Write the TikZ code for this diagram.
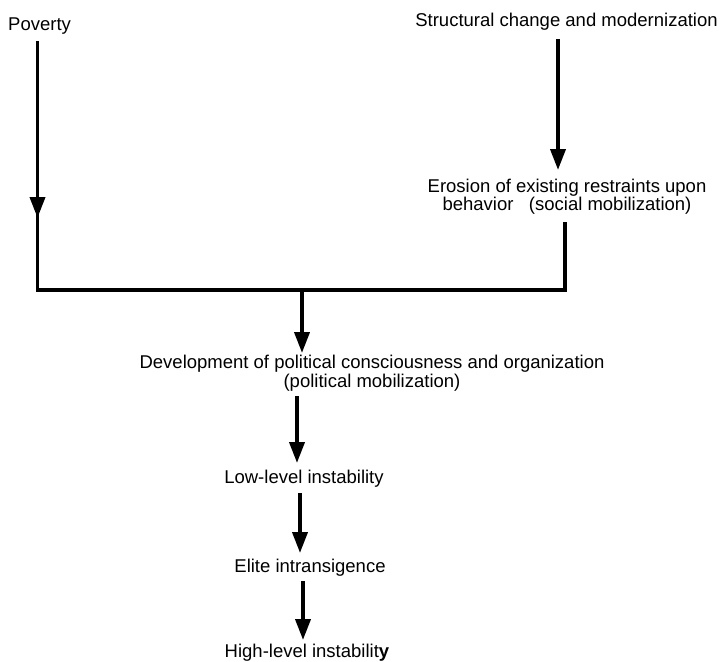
\documentclass[tikz,border=0pt]{standalone}
\usepackage{fontspec}
\setmainfont{Liberation Sans}
\usetikzlibrary{arrows.meta}
\begin{document}
\begin{tikzpicture}[x=1pt,y=-1pt,
  lbl/.style={inner sep=0pt, font=\fontsize{18.5}{18}\selectfont, align=center},
  conn/.style={line width=3.8pt},
  arr/.style={conn,-{Triangle[width=15pt,length=21pt]}}]
\useasboundingbox (0,0) rectangle (722,661);
\node[lbl,anchor=base west] (pov) at (8,30.7) {Poverty};
\node[lbl,anchor=base] (str) at (566.5,27) {Structural change and modernization};
\node[lbl,anchor=base] (ero) at (567,210) {Erosion of existing restraints upon\\behavior\ \ \ (social mobilization)};
\node[lbl,anchor=base,font=\fontsize{18.5}{19}\selectfont] (dev) at (372,387) {Development of political consciousness and organization\\(political mobilization)};
\node[lbl,anchor=base] (low) at (304,483) {Low-level instability};
\node[lbl,anchor=base] (elite) at (310,572) {Elite intransigence};
\node[lbl,anchor=base] (high) at (307,657) {High-level instabilit\textbf{y}};
% junction coordinates
\coordinate (povtop) at (37.5,41);
\coordinate (povtip) at (37.5,218);
\coordinate (povjoin) at (37.5,208);
\coordinate (cl) at (37.5,290);
\coordinate (cr) at (565,290);
\coordinate (erobot) at (565,222);
\coordinate (strtop) at (558,39);
\coordinate (strtip) at (558,170);
\coordinate (mid) at (302,290);
\coordinate (devtip) at (302,353);
\draw[arr] (povtop) -- (povtip);
\draw[conn] (povjoin) -- (cl) -- (cr) -- (erobot);
\draw[arr] (strtop) -- (strtip);
\draw[arr] (mid) -- (devtip);
\draw[arr] (dev.south -| 297,0) ++(0,5) -- (297,463);
\draw[arr] (low.south -| 300,0) ++(0,6) -- (300,553);
\draw[arr] (elite.south -| 303,0) ++(0,5) -- (303,640);
\end{tikzpicture}
\end{document}
